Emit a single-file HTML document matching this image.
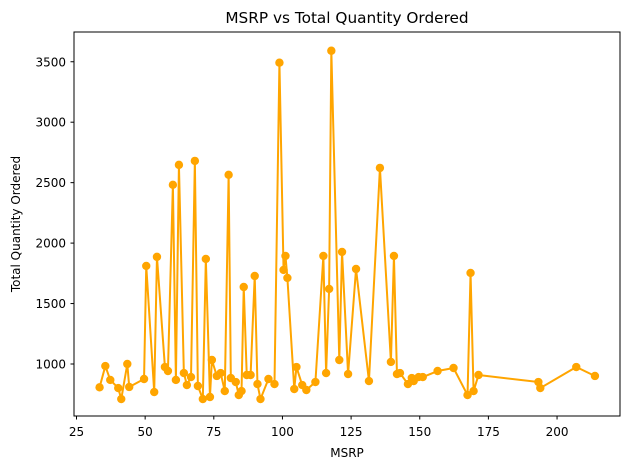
<!DOCTYPE html>
<html><head><meta charset="utf-8"><style>
html,body{margin:0;padding:0;background:#fff;}
svg{display:block;font-family:"DejaVu Sans","Liberation Sans",sans-serif;}
</style></head><body>
<svg id="chart" width="630" height="470" viewBox="0 0 630 470" xmlns="http://www.w3.org/2000/svg">
<text x="347" y="23" text-anchor="middle" font-size="15.3">MSRP vs Total Quantity Ordered</text>
<text x="347" y="457" text-anchor="middle" font-size="12">MSRP</text>
<text transform="translate(20,224) rotate(-90)" text-anchor="middle" font-size="12">Total Quantity Ordered</text>
<g id="ticks"></g>
<g id="series"></g>
<rect x="74" y="32" width="546" height="384" fill="none" stroke="#000" stroke-width="1"/>
</svg>
<script>
const msrp = [33.4,35.5,37.3,40.2,41.3,43.5,44.2,49.6,50.4,53.3,54.3,57.2,58.3,60.1,61.2,62.3,64.1,65.2,66.7,68.1,69.2,71.0,72.1,73.6,74.3,76.1,77.5,79.0,80.4,81.2,83.0,84.1,85.1,85.9,87.0,88.4,89.9,90.9,92.0,94.9,97.1,98.9,100.4,101.1,101.8,104.3,105.1,107.2,108.7,112.0,114.9,115.9,117.0,117.8,120.7,121.7,123.9,126.8,131.5,135.5,139.5,140.6,141.7,142.8,145.7,147.1,147.8,149.6,151.1,156.5,162.3,167.4,168.5,169.6,171.4,193.2,193.9,207.0,213.8];
const quantity = [807,983,868,801,710,1000,810,876,1811,768,1886,975,942,2482,868,2647,925,826,892,2680,818,710,1869,727,1033,901,925,776,2565,884,851,743,776,1637,909,909,1728,834,710,876,834,3492,1778,1894,1712,793,975,826,785,851,1894,925,1621,3591,1033,1927,917,1786,859,2622,1017,1894,917,925,834,884,859,892,892,942,967,743,1753,776,909,851,801,975,901];
const xTicks = [25,50,75,100,125,150,175,200];
const yTicks = [1000,1500,2000,2500,3000,3500];
const NS = "http://www.w3.org/2000/svg";
function xs(v){return 76.5 + (v-25)*2.746;}
function ys(v){return 364 - (v-1000)*0.1209;}
const tg = document.getElementById('ticks');
xTicks.forEach(t=>{
  const l=document.createElementNS(NS,'line');
  l.setAttribute('x1',xs(t));l.setAttribute('x2',xs(t));l.setAttribute('y1',416);l.setAttribute('y2',419.5);l.setAttribute('stroke','#000');
  
  
  tg.appendChild(l);
  const tx=document.createElementNS(NS,'text');
  tx.setAttribute('x',xs(t));tx.setAttribute('y',436);tx.setAttribute('text-anchor','middle');tx.setAttribute('font-size','12');
  tx.textContent=t;
  
  
  tg.appendChild(tx);
});
yTicks.forEach(t=>{
  const l=document.createElementNS(NS,'line');
  l.setAttribute('x1',70.5);l.setAttribute('x2',74);l.setAttribute('y1',ys(t));l.setAttribute('y2',ys(t));l.setAttribute('stroke','#000');
  
  
  tg.appendChild(l);
  const tx=document.createElementNS(NS,'text');
  tx.setAttribute('x',66);tx.setAttribute('y',ys(t)+4.5);tx.setAttribute('text-anchor','end');tx.setAttribute('font-size','12');
  tx.textContent=t;
  
  
  tg.appendChild(tx);
});
const sg=document.getElementById('series');
const pl=document.createElementNS(NS,'polyline');
pl.setAttribute('points',msrp.map((m,i)=>xs(m)+','+ys(quantity[i])).join(' '));
pl.setAttribute('fill','none');pl.setAttribute('stroke','#ffa500');pl.setAttribute('stroke-width','2');pl.setAttribute('stroke-linejoin','round');


sg.appendChild(pl);
msrp.forEach((m,i)=>{
  const c=document.createElementNS(NS,'circle');
  c.setAttribute('cx',xs(m));c.setAttribute('cy',ys(quantity[i]));c.setAttribute('r',4.2);c.setAttribute('fill','#ffa500');
  
  
  sg.appendChild(c);
});
</script>
</body></html>
